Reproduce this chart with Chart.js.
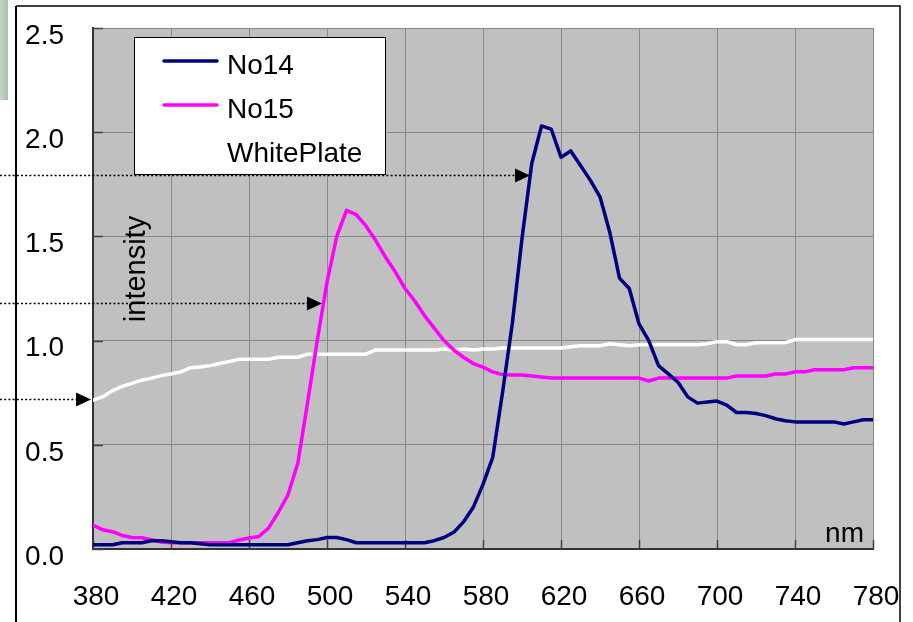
<!DOCTYPE html>
<html><head><meta charset="utf-8">
<script src="https://cdn.jsdelivr.net/npm/chart.js@4"></script>
<style>html,body{margin:0;padding:0;background:#fff;}canvas{display:block;}</style>
</head><body>
<canvas id="c" width="913" height="622"></canvas>
<script>
// ---- data ----
const wavelengths = [380,385,390,395,400,405,410,415,420,425,430,435,440,445,450,455,460,465,470,475,
  480,485,490,495,500,505,510,515,520,525,530,535,540,545,550,555,560,565,570,575,
  580,585,590,595,600,605,610,615,620,625,630,635,640,645,650,655,660,665,670,675,
  680,685,690,695,700,705,710,715,720,725,730,735,740,745,750,755,760,765,770,775,780];
const no14 = [0.02,0.02,0.02,0.03,0.03,0.03,0.04,0.04,0.035,0.03,0.03,0.025,0.02,0.02,0.02,0.02,0.02,0.02,0.02,0.02,
  0.02,0.03,0.04,0.045,0.055,0.055,0.045,0.03,0.03,0.03,0.03,0.03,0.03,0.03,0.03,0.04,0.055,0.08,0.13,0.20,
  0.31,0.44,0.75,1.08,1.49,1.85,2.03,2.015,1.88,1.91,1.84,1.77,1.69,1.52,1.30,1.25,1.08,1.00,0.88,0.84,
  0.80,0.73,0.70,0.705,0.71,0.69,0.655,0.655,0.65,0.64,0.625,0.615,0.61,0.61,0.61,0.61,0.61,0.60,0.61,0.62,0.62];
const no15 = [0.115,0.092,0.083,0.065,0.055,0.054,0.045,0.033,0.03,0.03,0.03,0.03,0.03,0.03,0.03,0.043,0.053,0.06,0.10,0.175,
  0.26,0.41,0.70,1.0,1.28,1.50,1.625,1.605,1.55,1.48,1.40,1.33,1.25,1.19,1.12,1.06,1.00,0.955,0.92,0.89,
  0.873,0.85,0.837,0.835,0.835,0.83,0.825,0.82,0.82,0.82,0.82,0.82,0.82,0.82,0.82,0.82,0.82,0.806,0.82,0.82,
  0.82,0.82,0.82,0.82,0.82,0.82,0.83,0.83,0.83,0.83,0.84,0.84,0.85,0.85,0.86,0.86,0.86,0.86,0.87,0.87,0.87];
const whitePlate = [0.715,0.73,0.76,0.78,0.795,0.81,0.82,0.832,0.84,0.85,0.87,0.873,0.88,0.89,0.90,0.91,0.91,0.91,0.91,0.92,
  0.92,0.92,0.935,0.935,0.935,0.935,0.935,0.935,0.935,0.955,0.955,0.955,0.955,0.955,0.955,0.955,0.96,0.955,0.96,0.955,
  0.96,0.96,0.965,0.965,0.965,0.965,0.965,0.965,0.965,0.97,0.975,0.975,0.975,0.985,0.98,0.975,0.98,0.98,0.98,0.98,
  0.98,0.98,0.98,0.985,0.995,0.995,0.98,0.98,0.99,0.99,0.99,0.99,1.005,1.005,1.005,1.005,1.005,1.005,1.005,1.005,1.005];
const seriesNames = ['No14','No15','WhitePlate'];
const seriesColors = ['#000080','#ff00ff','#ffffff'];
const xTicks = [380,420,460,500,540,580,620,660,700,740,780];
const yTicks = [0,0.5,1.0,1.5,2.0,2.5];
const yTitle = 'intensity';
const xUnit = 'nm';
// arrow tips in data coordinates (nm, intensity)
const arrowNm = [604.1, 497.4, 379.0];
const arrowVal = [1.795, 1.18, 0.72];

const FONT = "'Liberation Sans', Arial, sans-serif";
const toXY = (xs, ys) => xs.map((x, i) => ({x, y: ys[i]}));

const decor = {
  id: 'decor',
  beforeDraw(chart) {
    const {ctx, chartArea: a} = chart;
    ctx.save();
    ctx.fillStyle = '#c0c0c0';
    ctx.fillRect(a.left, a.top, a.right - a.left, a.bottom - a.top);
    const g = ctx.createLinearGradient(0, 0, 8, 0);
    g.addColorStop(0, '#c4d6c8'); g.addColorStop(1, '#a9c0b0');
    ctx.fillStyle = g;
    ctx.fillRect(0, 0, 8, 100);
    ctx.restore();
  },
  beforeDatasetsDraw(chart) {
    const {ctx, chartArea: a, scales: {x, y}} = chart;
    ctx.save();
    ctx.strokeStyle = '#404040'; ctx.lineWidth = 1.5;
    ctx.beginPath();
    yTicks.forEach(v => { const py = Math.round(y.getPixelForValue(v)) + 0.5; ctx.moveTo(a.left, py); ctx.lineTo(a.left + 10, py); });
    xTicks.forEach(v => { const px = Math.round(x.getPixelForValue(v)) + 0.5; ctx.moveTo(px, a.bottom); ctx.lineTo(px, a.bottom - 9); });
    ctx.stroke();
    ctx.restore();
  },
  afterDraw(chart) {
    const {ctx, chartArea: a, scales: {x, y}} = chart;
    ctx.save();
    // legend box
    ctx.fillStyle = '#ffffff';
    ctx.fillRect(134, 37, 251, 137);
    ctx.strokeStyle = '#000'; ctx.lineWidth = 1;
    ctx.strokeRect(134.5, 37.5, 251, 137);
    ctx.font = '28px ' + FONT;
    ctx.textBaseline = 'middle'; ctx.textAlign = 'left';
    chart.data.datasets.forEach((ds, i) => {
      const ry = 66 + i * 44;
      ctx.strokeStyle = ds.borderColor; ctx.lineWidth = 3.5; ctx.lineCap = 'round';
      ctx.beginPath(); ctx.moveTo(164, ry - 5); ctx.lineTo(217, ry - 5); ctx.stroke();
      ctx.fillStyle = '#000';
      ctx.fillText(ds.label, 227, ry);
    });
    // axis title inside plot
    ctx.save();
    ctx.translate(137, 269); ctx.rotate(-Math.PI / 2);
    ctx.textAlign = 'center'; ctx.textBaseline = 'middle';
    ctx.font = '29px ' + FONT; ctx.fillStyle = '#000';
    ctx.fillText(yTitle, 0, 0);
    ctx.restore();
    // unit
    ctx.textAlign = 'right'; ctx.textBaseline = 'alphabetic';
    ctx.fillStyle = '#000'; ctx.font = '28px ' + FONT;
    ctx.fillText(xUnit, 864, 542);
    // dotted arrows
    arrowNm.forEach((nm, i) => {
      const tx = x.getPixelForValue(nm), ty = Math.round(y.getPixelForValue(arrowVal[i])) + 0.5;
      ctx.strokeStyle = '#000'; ctx.lineWidth = 1.6; ctx.lineCap = 'butt';
      ctx.setLineDash([2, 2.2]);
      ctx.beginPath(); ctx.moveTo(0, ty); ctx.lineTo(tx - 14, ty); ctx.stroke();
      ctx.setLineDash([]);
      ctx.fillStyle = '#000';
      ctx.beginPath(); ctx.moveTo(tx, ty); ctx.lineTo(tx - 15, ty - 7); ctx.lineTo(tx - 15, ty + 7); ctx.closePath(); ctx.fill();
    });
    // outer frame
    ctx.strokeStyle = '#000';
    ctx.lineWidth = 2; ctx.beginPath(); ctx.moveTo(16, 6); ctx.lineTo(16, 622); ctx.stroke();
    ctx.lineWidth = 1.5; ctx.beginPath(); ctx.moveTo(16, 6); ctx.lineTo(900, 6); ctx.lineTo(900, 622); ctx.stroke();
    ctx.restore();
  }
};

new Chart(document.getElementById('c'), {
  type: 'line',
  data: {
    datasets: [
      {label: seriesNames[0], data: toXY(wavelengths, no14), borderColor: seriesColors[0]},
      {label: seriesNames[1], data: toXY(wavelengths, no15), borderColor: seriesColors[1]},
      {label: seriesNames[2], data: toXY(wavelengths, whitePlate), borderColor: seriesColors[2]}
    ]
  },
  options: {
    responsive: false, animation: false,
    layout: {padding: {left: 0, top: 28, right: 40, bottom: 0}},
    elements: {line: {borderWidth: 3.5, tension: 0, borderJoinStyle: 'round', borderCapStyle: 'round'}, point: {radius: 0}},
    plugins: {legend: {display: false}, tooltip: {enabled: false}},
    scales: {
      x: {
        type: 'linear', min: 380, max: 780,
        afterBuildTicks: s => { s.ticks = xTicks.map(v => ({value: v})); },
        afterFit: s => { s.height = 73; s.paddingLeft = 0; s.paddingRight = 0; },
        grid: {color: '#888888', lineWidth: 1, drawTicks: false},
        border: {color: '#333333', width: 2},
        ticks: {color: '#000', font: {family: FONT, size: 28}, padding: 31, labelOffset: 3, maxRotation: 0, autoSkip: false}
      },
      y: {
        min: 0, max: 2.5,
        afterBuildTicks: s => { s.ticks = yTicks.map(v => ({value: v})); },
        afterFit: s => { s.width = 93; s.paddingTop = 0; s.paddingBottom = 0; },
        grid: {color: '#888888', lineWidth: 1, drawTicks: false},
        border: {color: '#333333', width: 2},
        ticks: {color: '#000', font: {family: FONT, size: 28}, padding: 29, labelOffset: 8, callback: v => Number(v).toFixed(1)}
      }
    }
  },
  plugins: [decor]
});
</script>
</body></html>
